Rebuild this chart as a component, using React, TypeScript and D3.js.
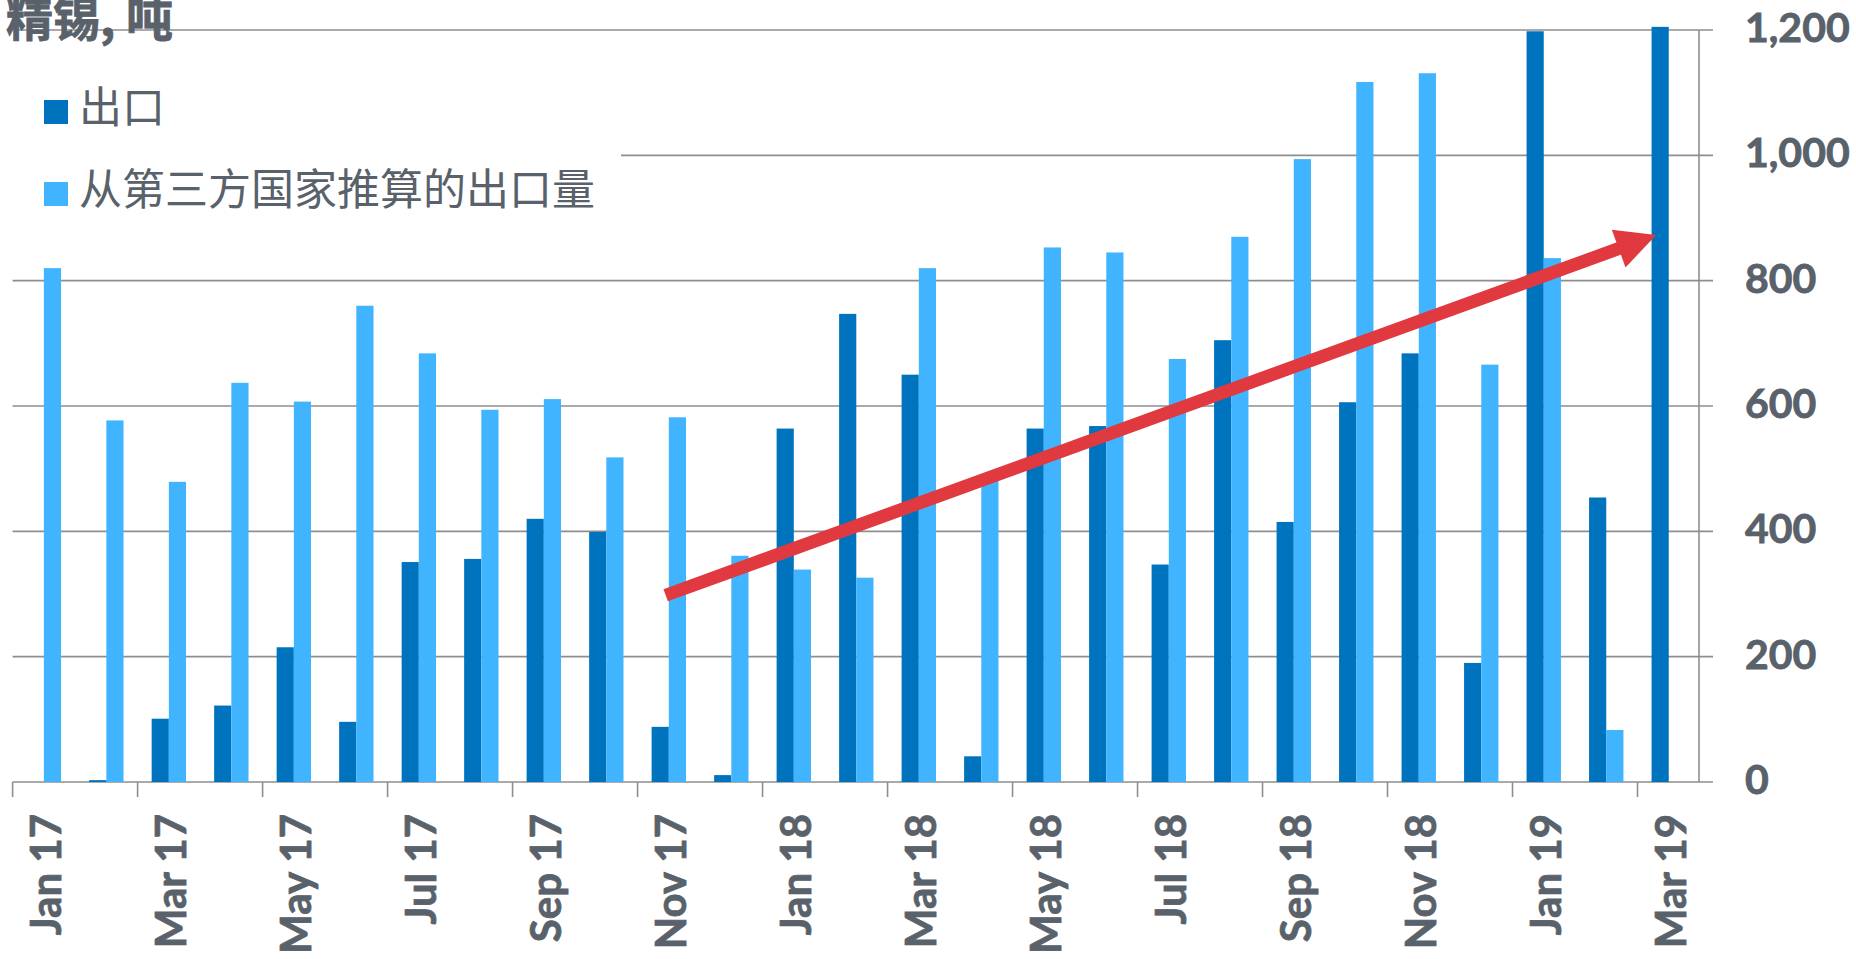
import React from "react";
import * as d3 from "d3";

// 精锡出口, 吨 (monthly)
const months = [
  "Jan 17", "Feb 17", "Mar 17", "Apr 17", "May 17", "Jun 17", "Jul 17", "Aug 17", "Sep 17",
  "Oct 17", "Nov 17", "Dec 17", "Jan 18", "Feb 18", "Mar 18", "Apr 18", "May 18", "Jun 18",
  "Jul 18", "Aug 18", "Sep 18", "Oct 18", "Nov 18", "Dec 18", "Jan 19", "Feb 19", "Mar 19",
];
const exportsReported = [
  0, 3, 101, 122, 215, 96, 351, 356, 420, 399, 88, 11, 564, 747, 650, 41, 564, 568, 347, 705,
  415, 606, 684, 190, 1198, 454, 1205,
];
const exportsEstimated = [
  820, 577, 479, 637, 607, 760, 684, 594, 611, 518, 582, 361, 339, 326, 820, 490, 853, 845, 675,
  870, 994, 1117, 1131, 666, 836, 83, 0,
];
const yTicks = [0, 200, 400, 600, 800, 1000, 1200];
const seriesNames = ["出口", "从第三方国家推算的出口量"];
const seriesColors = ["#0073bf", "#41b4ff"];
// trend arrow, in (month index, tonnes)
const trendFrom = [10.45, 298];
const trendTo = [26.3, 873];

const W = 1856;
const H = 959;
const left = 12.6;
const right = 1700;
const top = 30;
const bottom = 782;
const textColor = "#59616a";
const gridColor = "#8e8e8e";
const latin = "Lato, 'Open Sans', sans-serif";
const cjk = "'Noto Sans CJK SC', sans-serif";

export default function App() {
  const x = d3
    .scaleBand<string>()
    .domain(months)
    .range([left, right])
    .paddingInner(0.45)
    .paddingOuter(0.225);
  const sub = d3.scaleBand<number>().domain([0, 1]).range([0, x.bandwidth()]);
  const y = d3.scaleLinear().domain([0, 1200]).range([bottom, top]);
  const pos = d3.scaleLinear().domain([0, months.length]).range([left, right]);

  const series = [exportsReported, exportsEstimated];

  // arrow geometry
  const x0 = pos(trendFrom[0]);
  const y0 = y(trendFrom[1]);
  const x1 = pos(trendTo[0]);
  const y1 = y(trendTo[1]);
  const ang = Math.atan2(y1 - y0, x1 - x0);
  const headLen = 40;
  const headW = 40;
  const bx = x1 - headLen * Math.cos(ang);
  const by = y1 - headLen * Math.sin(ang);
  const px = -Math.sin(ang) * (headW / 2);
  const py = Math.cos(ang) * (headW / 2);
  const head = `M${x1},${y1}L${bx + px},${by + py}L${bx - px},${by - py}Z`;

  const tickIdx = months.map((_, i) => i).filter((i) => i % 2 === 0);

  return (
    <svg
      width={W}
      height={H}
      style={{ position: "absolute", left: 0, top: 0, background: "#fff" }}
    >
      {/* gridlines */}
      {yTicks.map((t) => (
        <line
          key={t}
          x1={left}
          x2={right + 13}
          y1={y(t)}
          y2={y(t)}
          stroke={gridColor}
          strokeWidth={1.6}
        />
      ))}
      <line x1={right - 1} x2={right - 1} y1={top} y2={bottom} stroke={gridColor} strokeWidth={1.6} />

      {/* x ticks */}
      {tickIdx.map((i) => (
        <line
          key={i}
          x1={pos(i)}
          x2={pos(i)}
          y1={bottom}
          y2={bottom + 15}
          stroke={gridColor}
          strokeWidth={1.6}
        />
      ))}

      {/* bars */}
      {series.map((vals, s) =>
        vals.map((v, i) =>
          v > 0 ? (
            <rect
              key={`${s}-${i}`}
              x={(x(months[i]) as number) + (sub(s) as number)}
              y={y(v)}
              width={sub.bandwidth()}
              height={bottom - y(v)}
              fill={seriesColors[s]}
            />
          ) : null
        )
      )}

      {/* legend box */}
      <rect x={0} y={50} width={621} height={190} fill="#fff" />
      {seriesNames.map((name, s) => (
        <g key={name} transform={`translate(0, ${s * 82})`}>
          <rect x={44} y={100} width={24} height={24} fill={seriesColors[s]} />
          <text x={79} y={123} fontFamily={cjk} fontSize={43} fill={textColor}>
            {name}
          </text>
        </g>
      ))}

      {/* title */}
      <text
        x={6}
        y={36}
        fontFamily={cjk}
        fontWeight={700}
        fontSize={47}
        fill={textColor}
        stroke={textColor}
        strokeWidth={0.8}
      >
        精锡, 吨
      </text>

      {/* trend arrow */}
      <line x1={x0} y1={y0} x2={bx + 2 * Math.cos(ang)} y2={by + 2 * Math.sin(ang)} stroke="#e03a40" strokeWidth={13} />
      <path d={head} fill="#e03a40" />

      {/* right axis labels */}
      {yTicks.map((t) => (
        <text
          key={t}
          x={1745}
          y={y(t) + 12}
          fontFamily={latin}
          fontWeight={700}
          fontSize={41}
          fill={textColor}
          stroke={textColor}
          strokeWidth={0.8}
        >
          {d3.format(",")(t)}
        </text>
      ))}

      {/* x labels */}
      {tickIdx.map((i) => {
        const cx = (x(months[i]) as number) + x.bandwidth() / 2 + 17;
        return (
          <text
            key={i}
            transform={`translate(${cx}, 814) rotate(-90)`}
            textAnchor="end"
            fontFamily={latin}
            fontWeight={700}
            fontSize={42}
            fill={textColor}
            stroke={textColor}
            strokeWidth={0.8}
          >
            {months[i]}
          </text>
        );
      })}
    </svg>
  );
}
